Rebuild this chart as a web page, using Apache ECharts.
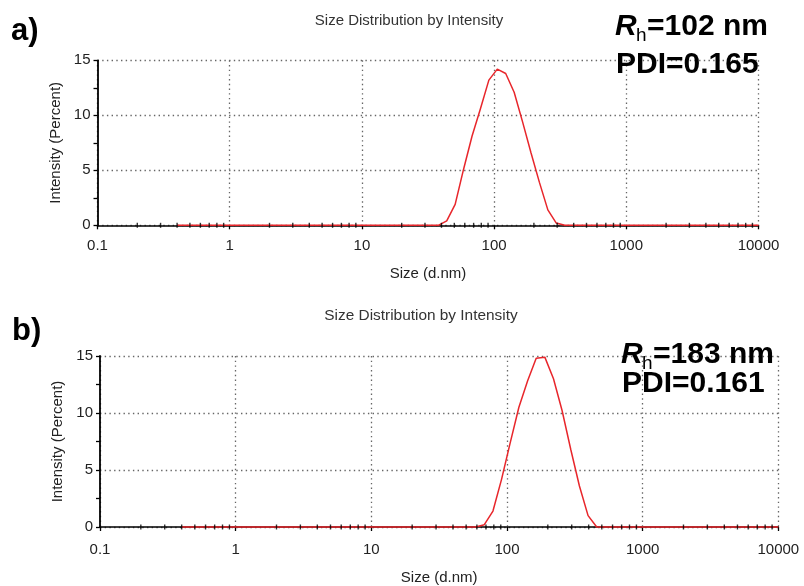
<!DOCTYPE html>
<html>
<head>
<meta charset="utf-8">
<script src="https://cdn.jsdelivr.net/npm/echarts@6/dist/echarts.min.js"></script>
<style>
html,body{margin:0;padding:0;background:#fff;}
#chart{width:804px;height:586px;}
</style>
</head>
<body>
<div id="chart"></div>
<script>
// Size classes (d.nm)
const sizes = [0.4, 0.4632, 0.5365, 0.6213, 0.7195, 0.8332, 0.9649, 1.117, 1.294, 1.499,
  1.736, 2.01, 2.328, 2.696, 3.122, 3.615, 4.187, 4.849, 5.615, 6.503,
  7.531, 8.721, 10.1, 11.7, 13.54, 15.69, 18.17, 21.04, 24.36, 28.21,
  32.67, 37.84, 43.82, 50.75, 58.77, 68.06, 78.82, 91.28, 105.7, 122.4,
  141.8, 164.2, 190.1, 220.2, 255, 295.3, 342, 396.1, 458.7, 531.2,
  615.1, 712.4, 825, 955.4, 1106, 1281, 1484, 1718, 1990, 2305,
  2669, 3091, 3580, 4145, 4801, 5560, 6439, 7456, 8635, 10000];

// Intensity (Percent), panel a
const intensityA = [0, 0, 0, 0, 0, 0, 0, 0, 0, 0,
  0, 0, 0, 0, 0, 0, 0, 0, 0, 0,
  0, 0, 0, 0, 0, 0, 0, 0, 0, 0,
  0, 0, 0.4, 1.9, 5.1, 8.1, 10.6, 13.2, 14.2, 13.8,
  12.1, 9.4, 6.6, 3.9, 1.4, 0.2, 0, 0, 0, 0,
  0, 0, 0, 0, 0, 0, 0, 0, 0, 0,
  0, 0, 0, 0, 0, 0, 0, 0, 0, 0];

// Intensity (Percent), panel b
const intensityB = [0, 0, 0, 0, 0, 0, 0, 0, 0, 0,
  0, 0, 0, 0, 0, 0, 0, 0, 0, 0,
  0, 0, 0, 0, 0, 0, 0, 0, 0, 0,
  0, 0, 0, 0, 0, 0.2, 1.4, 4.2, 7.4, 10.5,
  12.8, 14.8, 14.9, 13.0, 10.2, 6.8, 3.6, 1.0, 0, 0,
  0, 0, 0, 0, 0, 0, 0, 0, 0, 0,
  0, 0, 0, 0, 0, 0, 0, 0, 0, 0];

// x-axis minor tick positions
const minorTicks = [0.2, 0.3, 0.4, 0.5, 0.6, 0.7, 0.8, 0.9,
  2, 3, 4, 5, 6, 7, 8, 9,
  20, 30, 40, 50, 60, 70, 80, 90,
  200, 300, 400, 500, 600, 700, 800, 900,
  2000, 3000, 4000, 5000, 6000, 7000, 8000, 9000];

const titleText = 'Size Distribution by Intensity';
const xName = 'Size (d.nm)';
const yName = 'Intensity (Percent)';
const panelA = {label: 'a)', rh: '=102 nm', pdi: 'PDI=0.165'};
const panelB = {label: 'b)', rh: '=183 nm', pdi: 'PDI=0.161'};

const FONT = 'Liberation Sans, Arial, Helvetica, sans-serif';
const dotted = {color: '#666', width: 1.3, type: [1.4, 3.3]};

function xAxisFor(gi, margin, nameGap) {
  return {
    type: 'log', logBase: 10, min: 0.1, max: 10000, gridIndex: gi,
    name: xName, nameLocation: 'middle', nameGap: nameGap,
    nameTextStyle: {fontFamily: FONT, fontSize: 15, color: '#222'},
    axisLine: {lineStyle: {color: '#000', width: 1.6}},
    axisTick: {show: true, length: 4, lineStyle: {color: '#000', width: 1.3}},
    axisLabel: {fontFamily: FONT, fontSize: 15, color: '#222', margin: margin,
      formatter: v => String(Number(Number(v).toPrecision(6)))},
    splitLine: {show: true, lineStyle: dotted}
  };
}
function yAxisFor(gi) {
  return {
    type: 'value', min: 0, max: 15, interval: 5, gridIndex: gi,
    name: yName, nameLocation: 'middle', nameGap: 31,
    nameTextStyle: {fontFamily: FONT, fontSize: 15, color: '#222'},
    axisLine: {show: true, lineStyle: {color: '#000', width: 1.8}},
    axisTick: {show: true, length: 4, lineStyle: {color: '#000', width: 1.3}},
    minorTick: {show: true, splitNumber: 2, length: 4, lineStyle: {color: '#000', width: 1.3}},
    axisLabel: {fontFamily: FONT, fontSize: 15, color: '#222', margin: 7},
    splitLine: {show: true, lineStyle: dotted}
  };
}
function curve(gi, vals) {
  return {
    type: 'line', xAxisIndex: gi, yAxisIndex: gi,
    data: sizes.map((s, i) => [s, vals[i]]),
    showSymbol: false, symbol: 'none', clip: false, z: 3, silent: true,
    lineStyle: {color: '#e8262b', width: 1.5}
  };
}
function ticks(gi) {
  return {
    type: 'scatter', xAxisIndex: gi, yAxisIndex: gi,
    data: minorTicks.map(v => [v, 0]),
    symbol: 'rect', symbolSize: [1.4, 5], clip: false, z: 4, silent: true,
    itemStyle: {color: '#000'}
  };
}
function txt(x, y, text, fs, opts) {
  opts = opts || {};
  return {
    type: 'text', x: x, y: y, silent: true, z: 10,
    style: {
      text: text, fill: opts.fill || '#000',
      font: (opts.style || 'normal') + ' ' + (opts.weight || 'normal') + ' ' + fs + 'px ' + FONT,
      align: opts.align || 'left', verticalAlign: 'middle',
      textAlign: opts.align || 'left', textVerticalAlign: 'middle'
    }
  };
}
function annot(x, yR, yP, p) {
  return [
    txt(x, yR, 'R', 30, {style: 'italic', weight: 'bold'}),
    txt(x + 21, yR + 9, 'h', 19, {}),
    txt(x + 32, yR, p.rh, 30, {weight: 'bold'}),
    txt(x + 1, yP, p.pdi, 30, {weight: 'bold'})
  ];
}

const chart = echarts.init(document.getElementById('chart'), null, {renderer: 'canvas'});
chart.setOption({
  animation: false,
  backgroundColor: '#fff',
  grid: [
    {left: 97.5, right: 45.5, top: 60.3, height: 165},
    {left: 100, right: 25.7, top: 356, height: 171.3}
  ],
  xAxis: [xAxisFor(0, 13, 41), xAxisFor(1, 15, 43)],
  yAxis: [yAxisFor(0), yAxisFor(1)],
  series: [curve(0, intensityA), ticks(0), curve(1, intensityB), ticks(1)],
  graphic: [
    txt(409, 20.5, titleText, 15, {align: 'center', fill: '#333'}),
    txt(421, 315.5, titleText, 15.4, {align: 'center', fill: '#333'}),
    txt(11, 31, panelA.label, 31, {weight: 'bold'}),
    txt(12, 331, panelB.label, 31, {weight: 'bold'})
  ].concat(annot(615, 27, 64.7, panelA), annot(621, 355, 384, panelB))
});
</script>
</body>
</html>
